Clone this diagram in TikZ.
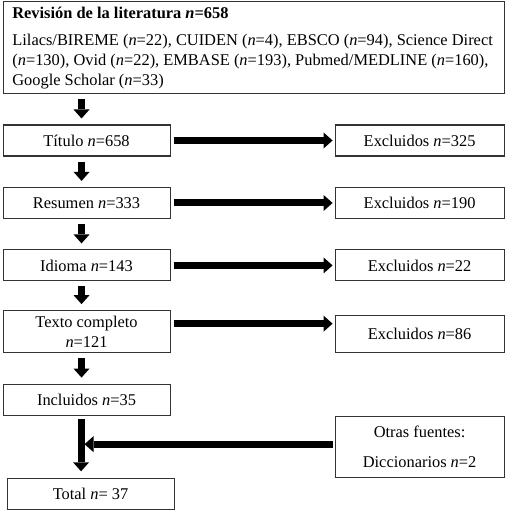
\documentclass[tikz,border=0pt]{standalone}
\usepackage{fontspec}
\setmainfont{Liberation Serif}
\usepackage{tikz}
\usetikzlibrary{arrows.meta,positioning}

\begin{document}
\begin{tikzpicture}[x=0.75pt, y=-0.75pt, node distance=22.8pt and 123pt,
  font=\fontsize{12.3}{15}\selectfont,
  box/.style = {draw=black!80, line width=0.8pt, minimum width=125.25pt, minimum height=23.25pt, align=center, inner sep=2pt},
  xbox/.style = {box, minimum width=126.75pt},
  fat/.style = {line width=5.25pt, -{Triangle[length=6.75pt, width=12pt, line width=0pt]}}]
  \useasboundingbox (0,0) rectangle (507,513);

  % Search
  \node[draw=black!80, line width=0.8pt, anchor=north west, inner xsep=7pt, inner ysep=2pt] (lit) at (2.5,1)
    {\parbox[c][65pt][t]{361.75pt}{\raggedright
     \rule{0pt}{11pt}\textbf{Revisión de la literatura \textit{n}=658}\\[5pt]
     Lilacs/BIREME (\textit{n}=22), CUIDEN (\textit{n}=4), EBSCO (\textit{n}=94), Science Direct\\
     (\textit{n}=130), Ovid (\textit{n}=22), EMBASE (\textit{n}=193), Pubmed/MEDLINE (\textit{n}=160),\\
     Google Scholar (\textit{n}=33)}};

  % Screening steps
  \node[box] (tit) [below=of lit.south west, anchor=north west] {Título \textit{n}=658};
  \node[box] (res) [below=of tit] {Resumen \textit{n}=333};
  \node[box] (idi) [below=of res] {Idioma \textit{n}=143};
  \node[box, minimum height=31.5pt, inner ysep=0.5pt] (txt) [below=21.5pt of idi] {Texto completo\\\textit{n}=121};
  \node[box] (inc) [below=of txt] {Incluidos \textit{n}=35};
  \node[box] (tot) [below=47pt of inc, xshift=3pt] {Total \textit{n}= 37};

  % Exclusions
  \node[xbox] (ex1) [right=of tit] {Excluidos \textit{n}=325};
  \node[xbox] (ex2) [right=of res] {Excluidos \textit{n}=190};
  \node[xbox] (ex3) [right=of idi] {Excluidos \textit{n}=22};
  \node[xbox, minimum height=27.75pt] (ex4) [right=of txt, yshift=-1.5pt] {Excluidos \textit{n}=86};
  \node[xbox, minimum height=45.75pt] (oth) [right=of inc.south east, anchor=north west]
    {Otras fuentes:\\[7pt]Diccionarios \textit{n}=2};

  \coordinate (join) at ([xshift=-4.1pt, yshift=1.9pt]inc.south |- oth.west);

  % Down arrows
  \draw[fat, shorten <=3.75pt, shorten >=4.5pt] ([xshift=-3.75pt]tit.north |- lit.south) -- ([xshift=-3.75pt]tit.north);
  \draw[fat, shorten <=3.75pt, shorten >=4.5pt] ([xshift=-3.75pt]tit.south) -- ([xshift=-3.75pt]res.north);
  \draw[fat, shorten <=3.75pt, shorten >=4.5pt] ([xshift=-3.75pt]res.south) -- ([xshift=-3.75pt]idi.north);
  \draw[fat, shorten <=3.75pt, shorten >=4.5pt] ([xshift=-3.75pt]idi.south) -- ([xshift=-3.75pt]txt.north);
  \draw[fat, shorten <=3.75pt, shorten >=4.5pt] ([xshift=-3.75pt]txt.south) -- ([xshift=-3.75pt]inc.north);
  \draw[fat, shorten <=2.25pt, shorten >=5.25pt] ([xshift=-4.1pt]inc.south) -- ([xshift=-4.1pt]inc.south |- tot.north);

  % Side arrows
  \path[fat, shorten <=2.25pt, shorten >=1.5pt]
        (tit) edge (ex1)
        (res) edge (ex2)
        (idi) edge (ex3);
  \draw[fat, shorten <=2.25pt, shorten >=1.5pt] ([yshift=6pt]txt.east) -- ([yshift=6pt]txt.east -| ex4.west);
  \draw[fat, shorten <=1.5pt, shorten >=2.6pt] (join -| oth.west) -- (join);

\end{tikzpicture}
\end{document}
